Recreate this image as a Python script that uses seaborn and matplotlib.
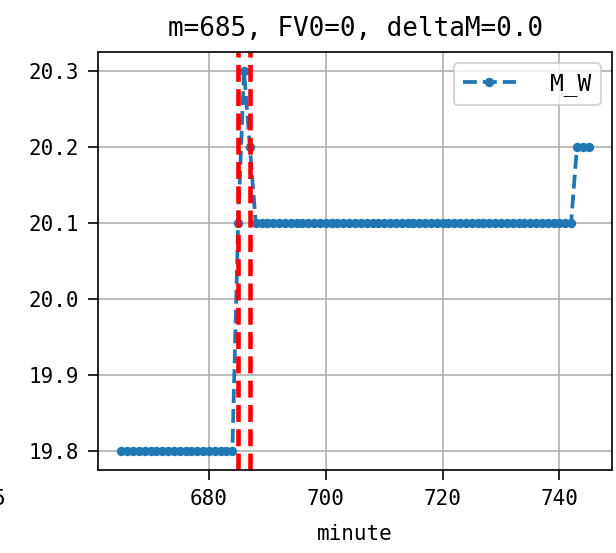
import numpy as np
import pandas as pd
import matplotlib
matplotlib.use("Agg")
import matplotlib.pyplot as plt
import seaborn as sns

# data
minutes = list(range(665, 746))
values = ([19.8] * 20            # 665..684
          + [20.1, 20.3, 20.2]    # 685, 686, 687
          + [20.1] * 55           # 688..742
          + [20.2] * 3)           # 743..745
vlines = [685, 687]
series_label = "M_W"
title = "m=685, FV0=0, deltaM=0.0"
x_label = "minute"
x_ticks = [680, 700, 720, 740]
y_ticks = [19.8, 19.9, 20.0, 20.1, 20.2, 20.3]
y_tick_labels = ["19.8", "19.9", "20.0", "20.1", "20.2", "20.3"]

plt.rcParams['font.family'] = ['DejaVu Sans Mono', 'DejaVu Sans']
plt.rcParams['font.size'] = 10

df = pd.DataFrame({"minute": minutes, "M_W": values})

fig = plt.figure(figsize=(616 / 150, 553 / 150), dpi=150)
ax = fig.add_axes([98 / 616, 1 - 470 / 553, (612 - 98) / 616, (470 - 51.7) / 553])

sns.lineplot(data=df, x="minute", y="M_W", ax=ax, marker='.', linestyle='--',
             color='#1f77b4', markeredgecolor='#1f77b4', markeredgewidth=1,
             markersize=7, linewidth=1.8, label=series_label)
for v in vlines:
    ax.axvline(v, color='red', linestyle='--', linewidth=2.2)

ax.grid(True, color='#b0b0b0', linewidth=0.8)
ax.set_axisbelow(True)
ax.set_title(title, fontsize=12.5, pad=7.5)
ax.set_xlabel(x_label, labelpad=7)
ax.set_ylabel("")
ax.set_xticks(x_ticks)
ax.set_yticks(y_ticks)
ax.set_yticklabels(y_tick_labels)
ax.tick_params(length=5, pad=4.3)
ax.legend(loc='upper right', fontsize=11, handlelength=2.3, handletextpad=1.5)

# partial tick label of neighbouring panel at left edge
fig.text(5 / 616, 1 - 499 / 553, "5", ha='right', va='center', fontsize=10)

fig.savefig("out.png", dpi=150)
